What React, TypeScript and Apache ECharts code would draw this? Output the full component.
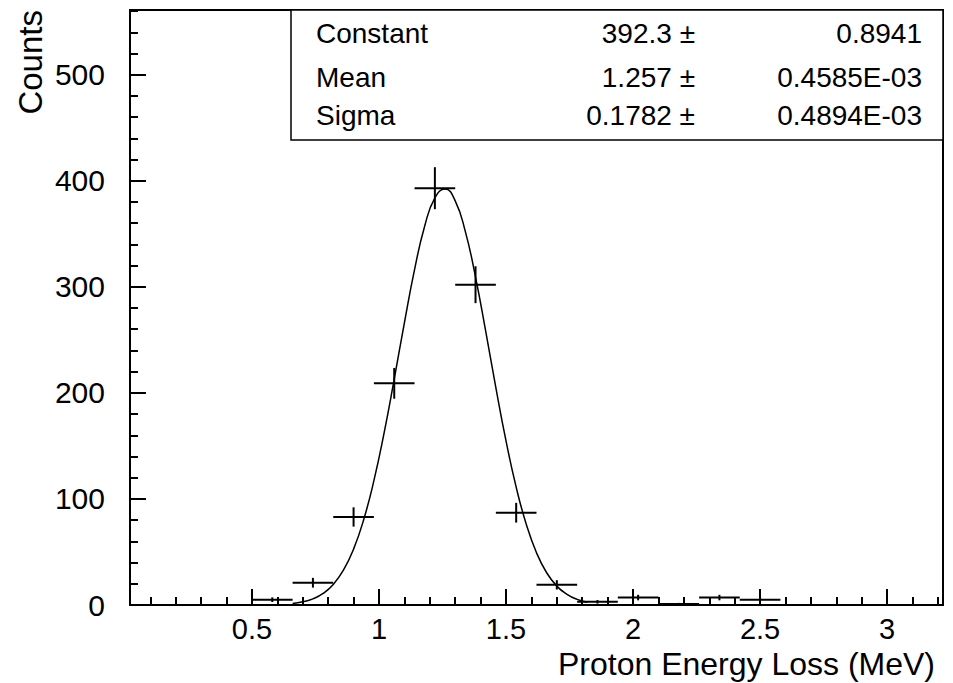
import React, { useEffect, useRef } from "react";
import * as echarts from "echarts";

// ---- Data ----
const binWidth = 0.16;
const binCenters = [0.58, 0.74, 0.9, 1.06, 1.22, 1.38, 1.54, 1.7, 1.86, 2.02, 2.18, 2.34, 2.5];
const counts = [5, 21, 83, 209, 393, 302, 87, 19, 3, 7, 1, 7, 5];
const countErrors = [2.2, 4.6, 9.1, 14.5, 19.8, 17.4, 9.3, 4.4, 1.7, 2.6, 1.0, 2.6, 2.2];

const fitX = [0.66, 0.7, 0.74, 0.78, 0.82, 0.86, 0.9, 0.94, 0.98, 1.02, 1.06, 1.1, 1.14, 1.18, 1.22, 1.26, 1.3, 1.34, 1.38, 1.42, 1.46, 1.5, 1.54, 1.58, 1.62, 1.66, 1.7, 1.74, 1.78, 1.82];
const fitY = [1.4, 3.0, 5.8, 10.9, 19.4, 32.8, 52.7, 80.6, 117.2, 162.0, 212.9, 266.1, 316.2, 357.4, 383.9, 392.2, 381.0, 352.0, 309.2, 258.2, 205.0, 154.8, 111.1, 75.9, 49.3, 30.4, 17.8, 10.0, 5.3, 2.7];

const xMin = 0.02;
const xMax = 3.22;
const yMin = 0;
const yMax = 561;
const xMajorTicks = [0.5, 1, 1.5, 2, 2.5, 3];
const xMinorTicks = [0.1, 0.2, 0.3, 0.4, 0.5, 0.6, 0.7, 0.8, 0.9, 1.0, 1.1, 1.2, 1.3, 1.4, 1.5, 1.6, 1.7, 1.8, 1.9, 2.0, 2.1, 2.2, 2.3, 2.4, 2.5, 2.6, 2.7, 2.8, 2.9, 3.0, 3.1, 3.2];
const yMajorTicks = [0, 100, 200, 300, 400, 500];
const yMinorTicks = [20, 40, 60, 80, 100, 120, 140, 160, 180, 200, 220, 240, 260, 280, 300, 320, 340, 360, 380, 400, 420, 440, 460, 480, 500, 520, 540, 560];

const xTitle = "Proton Energy Loss (MeV)";
const yTitle = "Counts";
const statNames = ["Constant", "Mean", "Sigma"];
const statValues = ["392.3 \u00b1", "1.257 \u00b1", "0.1782 \u00b1"];
const statErrors = ["0.8941", "0.4585E-03", "0.4894E-03"];

const FONT = "'Liberation Sans', Arial, Helvetica, sans-serif";

export default function App() {
  const ref = useRef<HTMLDivElement>(null);

  useEffect(() => {
    if (!ref.current) return;
    const chart = echarts.init(ref.current, undefined, { renderer: "svg" });

    const gridLeft = 130;
    const gridTop = 10;
    const gridRight = 10;
    const gridBottom = 78;
    const W = 953;

    const statRows = [33, 77, 115];
    const statGraphics: any[] = [
      {
        type: "rect",
        shape: { x: 291, y: 10, width: W - gridRight - 291, height: 130 },
        style: { fill: "#fff", stroke: "#000", lineWidth: 1.5 },
        z: 10,
      },
    ];
    statNames.forEach((n, i) => {
      statGraphics.push({
        type: "text",
        x: 316,
        y: statRows[i],
        z: 11,
        style: { text: n, fill: "#000", font: `28px ${FONT}`, align: "left", verticalAlign: "middle" },
      });
      statGraphics.push({
        type: "text",
        x: 695,
        y: statRows[i],
        z: 11,
        style: { text: statValues[i], fill: "#000", font: `28px ${FONT}`, align: "right", verticalAlign: "middle" },
      });
      statGraphics.push({
        type: "text",
        x: 922,
        y: statRows[i],
        z: 11,
        style: { text: statErrors[i], fill: "#000", font: `28px ${FONT}`, align: "right", verticalAlign: "middle" },
      });
    });

    const option: any = {
      animation: false,
      backgroundColor: "#fff",
      grid: {
        left: gridLeft,
        right: gridRight,
        top: gridTop,
        bottom: gridBottom,
        show: true,
        borderColor: "#000",
        borderWidth: 2,
        backgroundColor: "transparent",
      },
      xAxis: [
        {
          type: "value",
          min: xMin,
          max: xMax,
          position: "bottom",
          axisLine: { show: true, onZero: false, lineStyle: { color: "#000", width: 2 } },
          axisTick: { show: true, inside: true, length: 16, customValues: xMajorTicks, lineStyle: { color: "#000", width: 2 } },
          axisLabel: {
            show: true,
            customValues: xMajorTicks,
            margin: 9,
            color: "#000",
            fontSize: 29,
            lineHeight: 29,
            fontFamily: FONT,
          },
          splitLine: { show: false },
        },
        {
          type: "value",
          min: xMin,
          max: xMax,
          position: "bottom",
          axisLine: { show: false },
          axisTick: { show: true, inside: true, length: 8, customValues: xMinorTicks, lineStyle: { color: "#000", width: 2 } },
          axisLabel: { show: false },
          splitLine: { show: false },
        },
      ],
      yAxis: [
        {
          type: "value",
          min: yMin,
          max: yMax,
          position: "left",
          axisLine: { show: true, onZero: false, lineStyle: { color: "#000", width: 2 } },
          axisTick: { show: true, inside: true, length: 16, customValues: yMajorTicks, lineStyle: { color: "#000", width: 2 } },
          axisLabel: {
            show: true,
            customValues: yMajorTicks,
            margin: 25,
            color: "#000",
            fontSize: 30,
            fontFamily: FONT,
          },
          splitLine: { show: false },
        },
        {
          type: "value",
          min: yMin,
          max: yMax,
          position: "left",
          axisLine: { show: false },
          axisTick: { show: true, inside: true, length: 8, customValues: yMinorTicks, lineStyle: { color: "#000", width: 2 } },
          axisLabel: { show: false },
          splitLine: { show: false },
        },
      ],
      series: [
        {
          type: "line",
          xAxisIndex: 0,
          yAxisIndex: 0,
          data: fitX.map((x, i) => [x, fitY[i]]),
          smooth: true,
          showSymbol: false,
          symbol: "none",
          lineStyle: { color: "#000", width: 1.5 },
          z: 3,
        },
        {
          type: "custom",
          xAxisIndex: 0,
          yAxisIndex: 0,
          data: binCenters.map((x, i) => [x, counts[i], countErrors[i]]),
          encode: { x: 0, y: 1 },
          renderItem: (params: any, api: any) => {
            const x = api.value(0);
            const y = api.value(1);
            const e = api.value(2);
            const pl = api.coord([x - binWidth / 2, y]);
            const pr = api.coord([x + binWidth / 2, y]);
            const pt = api.coord([x, y + e]);
            const pb = api.coord([x, Math.max(y - e, 0)]);
            const st = { stroke: "#000", lineWidth: 2 };
            return {
              type: "group",
              children: [
                { type: "line", shape: { x1: pl[0], y1: pl[1], x2: pr[0], y2: pr[1] }, style: st },
                { type: "line", shape: { x1: pt[0], y1: pt[1], x2: pb[0], y2: pb[1] }, style: st },
              ],
            };
          },
          z: 4,
        },
      ],
      graphic: [
        ...statGraphics,
        {
          type: "text",
          x: 935,
          y: 664,
          style: { text: xTitle, fill: "#000", font: `32px ${FONT}`, align: "right", verticalAlign: "middle" },
        },
        {
          type: "text",
          x: 30,
          y: 10,
          rotation: Math.PI / 2,
          style: { text: yTitle, fill: "#000", font: `33px ${FONT}`, align: "right", verticalAlign: "middle" },
        },
      ],
    };

    chart.setOption(option);
    return () => chart.dispose();
  }, []);

  return (
    <div
      ref={ref}
      style={{ position: "absolute", left: 0, top: 0, width: 953, height: 683, background: "#fff" }}
    />
  );
}
